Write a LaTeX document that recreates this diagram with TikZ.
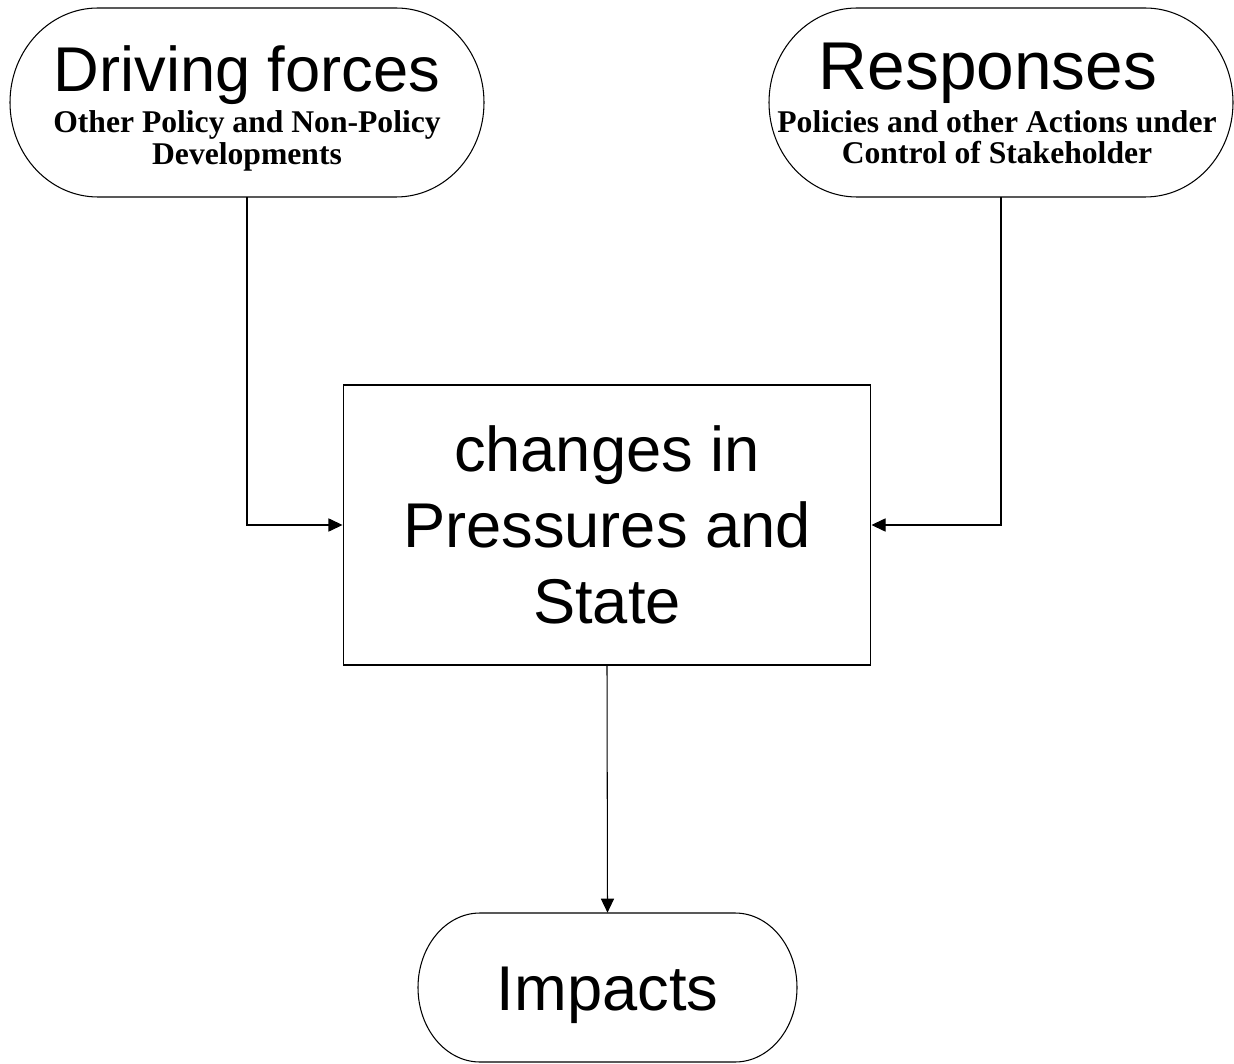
\documentclass[tikz,border=0pt]{standalone}
\usepackage{fontspec}
\setmainfont{Liberation Serif}
\newfontfamily\arialfont{Liberation Sans}
\usetikzlibrary{arrows.meta}

% capsule outline: name, centre x, centre y, half width, half height, cap width
\newcommand\capsule[6]{%
  \node[inner sep=0pt, minimum width={2*#4*0.02cm}, minimum height={2*#5*0.02cm}] (#1) at (#2,#3) {};
  \draw[shapeline] (#2-#4+#6,#3+#5) -- (#2+#4-#6,#3+#5)
    arc[start angle=90, end angle=-90, x radius=#6, y radius=#5]
    -- (#2-#4+#6,#3-#5)
    arc[start angle=270, end angle=90, x radius=#6, y radius=#5] -- cycle;
}

\tikzset{
  shapeline/.style={draw=black, line width=0.6pt},
  boxnode/.style={draw=black, line width=0.6pt, inner sep=0pt,
    minimum width=10.56cm, minimum height=5.6cm},
  conn/.style={draw=black, line width=0.6pt, -{Triangle[length=8pt, width=7.5pt]}},
  bigtext/.style={anchor=base, inner sep=0pt, font=\arialfont\fontsize{36}{43}\selectfont},
  subtext/.style={anchor=base, inner sep=0pt, font=\bfseries\fontsize{18}{21}\selectfont},
}

\begin{document}
\begin{tikzpicture}[x=0.02cm, y=0.02cm]
  \useasboundingbox (0,0) rectangle (1234,1063);

  % the three capsules
  \capsule{df}{247}{960.5}{237}{94.5}{88}
  \capsule{re}{1001}{960.5}{232}{94.5}{88}
  \capsule{im}{607.5}{75.5}{189.5}{74.5}{62}

  % central box
  \node[boxnode] (box) at (607,538) {};

  % labels
  \node[bigtext] (dft) at (247,971) {Driving forces};
  \node[subtext] (dfa) at (247,930) {Other Policy and Non-Policy};
  \node[subtext] (dfb) at (247,898) {Developments};

  \node[bigtext, font=\arialfont\fontsize{38.5}{46}\selectfont] (ret) at (988,973) {Responses};
  \node[subtext] (rea) at (997,930) {Policies and other Actions under};
  \node[subtext] (reb) at (997,899) {Control of Stakeholder};

  \node[bigtext] (bxa) at (607,592) {changes in};
  \node[bigtext] (bxb) at (607,516) {Pressures and};
  \node[bigtext] (bxc) at (607,440) {State};

  \node[bigtext] (imt) at (607.5,53) {Impacts};

  % connectors
  \draw[conn] (df.south) |- (box.west);
  \draw[conn] (re.south) |- (box.east);
  \draw[conn] (box.south) -- (im.north);
\end{tikzpicture}
\end{document}
